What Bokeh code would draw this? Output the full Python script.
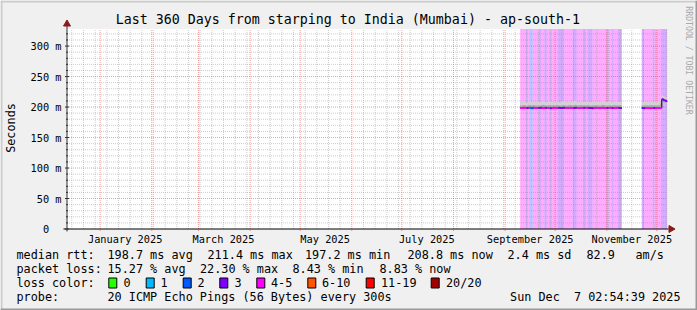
import math
import pandas as pd
from bokeh.plotting import figure
from bokeh.models import Range1d, Label, ColumnDataSource
from bokeh.embed import file_html
from bokeh.resources import INLINE

FONT = "DejaVu Sans Mono"

# ---------------- data ----------------
chart_title = "Last 360 Days from starping to India (Mumbai) - ap-south-1"
y_unit_label = "Seconds"
watermark = "RRDTOOL / TOBI OETIKER"
t_end = pd.Timestamp("2025-12-07 02:54:39")
t_start = t_end - pd.Timedelta(days=360)
y_max = 328

y_ticks = [0, 50, 100, 150, 200, 250, 300]
y_tick_labels = ["0\u00a0\u00a0", "50 m", "100 m", "150 m", "200 m", "250 m", "300 m"]
y_minor_step = 10
x_label_dates = ["2025-01-16", "2025-03-16", "2025-05-16", "2025-07-16", "2025-09-16", "2025-11-16"]
x_label_texts = ["January 2025", "March 2025", "May 2025", "July 2025", "September 2025", "November 2025"]

loss_labels = ["0", "1", "2", "3", "4-5", "6-10", "11-19", "20/20"]
loss_colors = ["#26ff00", "#00b8ff", "#0059ff", "#7e00ff", "#ff00ff", "#ff5500", "#ff0000", "#a10000"]

band_start = ["2025-09-10 00:00", "2025-09-13 12:00", "2025-09-14 12:00", "2025-09-16 00:00",
              "2025-09-17 12:00", "2025-09-21 00:00", "2025-09-22 12:00", "2025-09-24 12:00",
              "2025-09-26 00:00", "2025-09-28 00:00", "2025-09-29 00:00", "2025-10-02 12:00",
              "2025-10-06 12:00", "2025-10-11 12:00", "2025-10-14 00:00", "2025-10-17 12:00",
              "2025-10-19 00:00", "2025-10-20 12:00", "2025-10-23 12:00", "2025-10-31 12:00",
              "2025-11-02 00:00", "2025-11-04 00:00", "2025-11-05 00:00", "2025-11-07 12:00",
              "2025-11-22 00:00", "2025-11-23 12:00", "2025-11-28 12:00", "2025-11-29 12:00",
              "2025-12-03 12:00"]
band_end = ["2025-09-13 12:00", "2025-09-14 12:00", "2025-09-16 00:00", "2025-09-17 12:00",
            "2025-09-21 00:00", "2025-09-22 12:00", "2025-09-24 12:00", "2025-09-26 00:00",
            "2025-09-28 00:00", "2025-09-29 00:00", "2025-10-02 12:00", "2025-10-06 12:00",
            "2025-10-11 12:00", "2025-10-14 00:00", "2025-10-17 12:00", "2025-10-19 00:00",
            "2025-10-20 12:00", "2025-10-23 12:00", "2025-10-31 12:00", "2025-11-02 00:00",
            "2025-11-04 00:00", "2025-11-05 00:00", "2025-11-07 12:00", "2025-11-10 00:00",
            "2025-11-23 12:00", "2025-11-28 12:00", "2025-11-29 12:00", "2025-12-03 12:00",
            "2025-12-07 02:54:39"]
band_loss = [4, 3, 4, 2, 4, 3, 4, 3, 4, 3, 4, 3, 4, 3, 4, 3, 4, 3, 4, 3, 4, 3, 4, 3,
             3, 4, 3, 4, 3]

# daily samples, segment 1 (2025-09-10 .. 2025-11-10) -- values in ms
seg1_first, seg1_last = "2025-09-10", "2025-11-10"
median1 = [198.6, 198.4, 198.9, 198.5, 198.3, 198.7, 198.6, 198.2, 198.8, 198.5,
           198.4, 198.6, 198.9, 198.3, 198.5, 198.7, 198.4, 198.6, 198.2, 198.5,
           198.8, 198.6, 198.3, 198.7, 198.5, 198.4, 198.9, 198.6, 198.3, 198.5,
           198.7, 198.4, 198.6, 198.8, 198.5, 198.3, 198.6, 198.4, 198.7, 198.5,
           198.9, 198.6, 198.4, 198.2, 198.5, 198.7, 198.6, 198.3, 198.5, 198.8,
           198.4, 198.6, 198.5, 198.3, 198.7, 198.6, 198.4, 198.5, 198.8, 198.6,
           198.3, 198.5]
smoke_hi1 = [208.5, 207.2, 209.8, 208.1, 206.9, 208.7, 210.2, 207.5, 208.9, 207.8,
             208.3, 209.1, 207.4, 208.6, 210.5, 208.0, 207.3, 208.8, 209.4, 207.9,
             208.2, 207.6, 209.0, 208.4, 207.1, 208.9, 210.1, 208.3, 207.7, 208.5,
             209.3, 207.8, 208.6, 211.2, 208.1, 207.5, 208.7, 209.2, 207.9, 208.4,
             208.0, 209.6, 207.6, 208.3, 208.8, 207.4, 209.1, 208.2, 207.8, 208.6,
             210.4, 208.1, 207.7, 208.9, 208.3, 207.5, 208.6, 209.0, 207.9, 208.2,
             208.7, 207.6]
smoke_mid1 = [202.8, 202.3, 203.5, 202.9, 202.1, 203.0, 203.4, 202.4, 203.2, 202.7,
              202.6, 203.1, 202.5, 202.9, 203.6, 202.8, 202.2, 203.0, 203.3, 202.6,
              202.9, 202.5, 203.2, 202.8, 202.3, 203.1, 203.5, 202.7, 202.4, 202.9,
              203.2, 202.6, 202.9, 203.8, 202.8, 202.4, 203.0, 203.3, 202.6, 202.8,
              202.7, 203.4, 202.5, 202.6, 203.0, 202.4, 203.2, 202.7, 202.5, 202.9,
              203.6, 202.7, 202.4, 203.1, 202.8, 202.3, 202.9, 203.2, 202.6, 202.8,
              203.0, 202.5]
smoke_lo1 = [196.9, 196.7, 197.1, 196.8, 196.6, 197.0, 196.9, 196.5, 197.1, 196.8,
             196.7, 196.9, 197.2, 196.6, 196.8, 197.0, 196.7, 196.9, 196.5, 196.8,
             197.1, 196.9, 196.6, 197.0, 196.8, 196.7, 197.2, 196.9, 196.6, 196.8,
             197.0, 196.7, 196.9, 197.1, 196.8, 196.6, 196.9, 196.7, 197.0, 196.8,
             197.2, 196.9, 196.7, 196.5, 196.8, 197.0, 196.9, 196.6, 196.8, 197.1,
             196.7, 196.9, 196.8, 196.6, 197.0, 196.9, 196.7, 196.8, 197.1, 196.9,
             196.6, 196.8]

# daily samples, segment 2 (2025-11-22 .. 2025-12-06, then "now")
seg2_first, seg2_last = "2025-11-22", "2025-12-06"
median2 = [198.4, 198.2, 198.6, 198.3, 198.5, 198.1, 198.4, 198.6, 198.2, 198.5,
           198.3, 198.4, 212.6, 211.0, 210.2, 208.8]
smoke_hi2 = [207.6, 208.4, 207.9, 208.8, 207.5, 208.2, 209.0, 207.8, 208.3, 207.6,
             208.5, 209.4, 221.5, 218.2, 216.4, 214.0]
smoke_mid2 = [202.5, 202.9, 202.6, 203.1, 202.4, 202.8, 203.3, 202.6, 202.9, 202.5,
              202.8, 203.2, 215.8, 214.2, 213.1, 211.6]
smoke_lo2 = [196.8, 196.6, 196.9, 196.7, 197.0, 196.5, 196.8, 197.0, 196.6, 196.9,
             196.7, 196.8, 209.1, 207.9, 207.2, 206.1]

legend_rows = [
    [(16, "median rtt:"), (107, "198.7 ms avg"), (207, "211.4 ms max"), (304.5, "197.2 ms min"),
     (407, "208.8 ms now"), (507, "2.4 ms sd"), (586, "82.9"), (635, "am/s")],
    [(16, "packet loss:"), (107, "15.27 % avg"), (199.5, "22.30 % max"), (292, "8.43 % min"),
     (379, "8.83 % now")],
]
probe_text = "20 ICMP Echo Pings (56 Bytes) every 300s"
stamp_text = "Sun Dec \u00a07 02:54:39 2025"

# ---------------- geometry (canvas pixels) ----------------
W, H = 697, 310
FL, FR, FT, FB = 66.5, 666.5, 28.5, 228.5


def ms(t):
    return int(pd.Timestamp(t).value // 10**6)


t0, t1 = ms(t_start), ms(t_end)


def X(px):
    return t0 + (px - FL) / (FR - FL) * (t1 - t0)


def Y(py):
    return (FB - py) / (FB - FT) * y_max


p = figure(width=W, height=H, x_range=Range1d(X(0), X(W)), y_range=Range1d(Y(H), Y(0)),
           output_backend="svg", toolbar_location=None, title=None,
           x_axis_location=None, y_axis_location=None,
           min_border=0, min_border_left=0, min_border_right=0,
           min_border_top=0, min_border_bottom=0)
p.background_fill_color = "#f0f0f0"
p.border_fill_color = "#f0f0f0"
p.outline_line_color = None
p.grid.visible = False

# window shading
shade = dict(left=[X(0), X(0), X(0), X(W - 2)], right=[X(W), X(2), X(W), X(W)],
             top=[Y(0), Y(0), Y(H - 2), Y(0)], bottom=[Y(2), Y(H), Y(H), Y(H)],
             c=["#cbcbcb", "#cbcbcb", "#999999", "#999999"])
p.quad(left="left", right="right", top="top", bottom="bottom", fill_color="c",
       line_color=None, source=ColumnDataSource(shade))

# plot canvas
p.quad(left=[t0], right=[t1], bottom=[0], top=[y_max], fill_color="white", line_color=None)

# loss background bands
band_color = [loss_colors[4] if v >= 4 else loss_colors[v] for v in band_loss]
bsrc = ColumnDataSource(dict(left=[ms(s) for s in band_start], right=[ms(e) for e in band_end],
                             color=band_color))
p.quad(left="left", right="right", bottom=0, top=y_max, source=bsrc,
       fill_color="color", fill_alpha=0.33, line_color=None)

# grid
month_starts = [ms(d) for d in pd.date_range("2025-01-01", "2025-12-01", freq="MS")]
week_lines = [ms(d) for d in pd.date_range("2024-12-15", t_end, freq="7D")]
week_lines = [w for w in week_lines if w not in month_starts]
y_minor = [v for v in range(y_minor_step, y_max, y_minor_step) if v not in y_ticks]
y_major = y_ticks[1:]
minor_style = dict(line_color="#8f8f8f", line_alpha=0.45, line_dash="1 1", line_width=1)
major_style = dict(line_color="#de5050", line_alpha=0.55, line_dash="1 1", line_width=1)
p.segment(x0=week_lines, x1=week_lines, y0=0, y1=y_max, **minor_style)
p.segment(x0=t0, x1=t1, y0=y_minor, y1=y_minor, **minor_style)
p.segment(x0=month_starts, x1=month_starts, y0=0, y1=y_max, **major_style)
p.segment(x0=t0, x1=t1, y0=y_major, y1=y_major, **major_style)


def band_color_at(t):
    for s, e, v in zip(band_start, band_end, band_loss):
        if pd.Timestamp(s) <= t < pd.Timestamp(e):
            return loss_colors[4] if v >= 4 else loss_colors[v]
    return "black"


segments = [
    (list(pd.date_range(seg1_first, seg1_last, freq="D")), median1, smoke_hi1, smoke_mid1, smoke_lo1),
    (list(pd.date_range(seg2_first, seg2_last, freq="D")) + [t_end], median2, smoke_hi2, smoke_mid2, smoke_lo2),
]
for dates, med, hi, mid, lo in segments:
    xs = [ms(d) for d in dates]
    p.varea(x=xs, y1=lo, y2=hi, fill_color="#d2d2d2")
    p.varea(x=xs, y1=lo, y2=mid, fill_color="#a8a8a8")
    p.step(x=xs, y=med, mode="after", line_color="black", line_width=1)
    cols = [band_color_at(d) for d in dates[:-1]]
    p.segment(x0=xs[:-1], x1=xs[1:], y0=med[:-1], y1=med[:-1], line_color=cols, line_width=2)

# axes
axis_color = "#303030"
p.segment(x0=[X(63)], x1=[X(668)], y0=[0], y1=[0], line_color="black", line_width=1)
p.segment(x0=[t0], x1=[t0], y0=[Y(231)], y1=[Y(24)], line_color=axis_color, line_width=1)
p.segment(x0=X(FL - 2), x1=X(FL + 2), y0=y_ticks, y1=y_ticks, line_color=axis_color, line_width=1)
p.segment(x0=X(FL - 1), x1=X(FL + 1), y0=y_minor, y1=y_minor, line_color=axis_color, line_width=1)
p.segment(x0=month_starts, x1=month_starts, y0=Y(FB + 2), y1=0, line_color="#de5050", line_alpha=0.6)
p.scatter(x=[X(670.5)], y=[0], marker="triangle", angle=-math.pi / 2, size=7,
          fill_color="#8b1a1a", line_color="#8b1a1a")
p.scatter(x=[t0], y=[Y(23.5)], marker="triangle", angle=0, size=7,
          fill_color="#8b1a1a", line_color="#8b1a1a")


def text(x, y, s, size="11.8px", align="left", angle=0.0, color="black"):
    p.add_layout(Label(x=x, y=y, text=s, text_font=FONT, text_font_size=size,
                       text_align=align, text_baseline="middle", angle=angle,
                       text_color=color))


for v, s in zip(y_ticks, y_tick_labels):
    text(X(61), v, s, size="10.3px", align="right")
for d, s in zip(x_label_dates, x_label_texts):
    text(ms(d), Y(238), s, size="10.3px", align="center")

text(X(347.3), Y(18.5), chart_title, size="13.3px", align="center")
text(X(10.5), Y(127.5), y_unit_label, align="center", angle=math.pi / 2)
text(X(688), Y(60), watermark, size="8.2px", align="center", angle=-math.pi / 2, color="#aaaaaa")

for row, py in zip(legend_rows, [254.3, 268.3]):
    for px, s in row:
        text(X(px), Y(py), s)

text(X(16), Y(282.3), "loss color:")
box_x = [108.3, 145.7, 182.7, 219.3, 256.3, 307.3, 365.7, 430.7]
lab_x = [123, 160, 197, 234, 270.5, 321.5, 380.5, 445.5]
p.quad(left=[X(b) for b in box_x], right=[X(b + 8) for b in box_x],
       top=Y(277.5), bottom=Y(287.5), fill_color=loss_colors, line_color="black", line_width=1)
for lx, s in zip(lab_x, loss_labels):
    text(X(lx), Y(282.3), s)

text(X(16), Y(296), "probe:")
text(X(107), Y(296), probe_text)
text(X(680), Y(296), stamp_text, align="right")

open("out.html", "w").write(file_html(p, INLINE))
